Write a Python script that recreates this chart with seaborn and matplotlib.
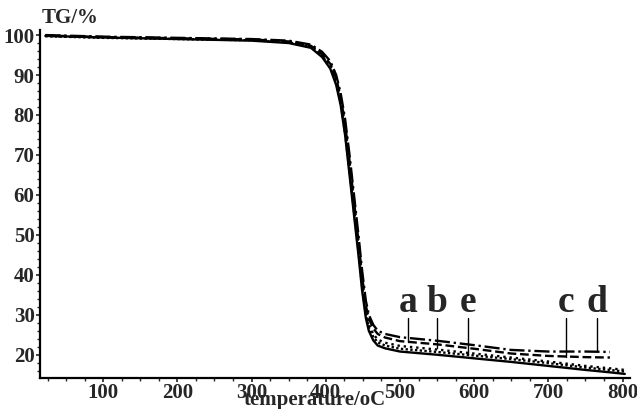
import numpy as np
import pandas as pd
import matplotlib
matplotlib.use('Agg')
import matplotlib.pyplot as plt
from matplotlib.ticker import MultipleLocator
import seaborn as sns

temps = [22, 100, 200, 300, 350, 380, 395, 406, 414, 420, 426, 432, 438, 444,
         449, 454, 458, 464, 470, 480, 500, 550, 600, 650, 700, 750, 783, 803]

tg_d = [100.0, 99.6, 99.3, 99.0, 98.6, 97.6, 95.8, 93.5, 90.0, 85.5, 79.0, 70.0, 60.0, 50.0,
        41.0, 33.5, 30.0, 27.5, 26.0, 25.2, 24.4, 23.5, 22.4, 21.2, 20.8, 20.8, 20.7, np.nan]
tg_c = [99.9, 99.5, 99.2, 98.9, 98.4, 97.3, 95.3, 92.8, 89.2, 84.5, 77.8, 68.5, 58.5, 48.5,
        39.5, 32.3, 29.0, 26.6, 25.2, 24.3, 23.4, 22.6, 21.5, 20.3, 19.7, 19.4, 19.3, np.nan]
tg_b = [99.8, 99.4, 99.1, 98.8, 98.3, 97.2, 95.0, 92.4, 88.6, 83.6, 76.5, 67.0, 57.0, 47.0,
        38.0, 30.8, 27.6, 25.2, 23.8, 23.0, 22.2, 21.3, 20.3, 19.3, 18.3, 17.2, 16.6, 16.2]
tg_e = [99.7, 99.3, 99.0, 98.7, 98.2, 97.0, 94.8, 92.0, 88.0, 83.0, 75.5, 66.0, 56.0, 46.0,
        37.0, 30.0, 26.8, 24.5, 23.1, 22.3, 21.5, 20.7, 19.8, 18.9, 17.9, 16.8, 16.2, 15.8]
tg_a = [99.8, 99.4, 99.0, 98.6, 98.0, 96.8, 94.5, 91.6, 87.5, 82.5, 75.0, 65.0, 55.0, 45.0,
        36.0, 29.2, 26.0, 23.6, 22.3, 21.6, 20.8, 20.0, 19.1, 18.2, 17.2, 16.2, 15.6, 15.2]

# letters and where their pointer lines end
label_names = ['a', 'b', 'e', 'c', 'd']
label_temps = [511, 550, 592, 724, 765]
label_tips = [23.2, 21.7, 20.0, 19.5, 21.0]

sns.set_style('ticks')
plt.rcParams['font.family'] = ['Liberation Serif', 'DejaVu Serif']
plt.rcParams['font.weight'] = 'bold'

fig = plt.figure(figsize=(6.37, 4.09), dpi=100)
ax = fig.add_axes([0.063, 0.076, 0.926, 0.851])

series = [(tg_d, '-.'), (tg_c, '--'), (tg_b, ':'), (tg_e, (0, (1, 1))), (tg_a, '-')]
for values, ls in series:
    sns.lineplot(x=temps, y=values, ax=ax, color='black', lw=1.7, linestyle=ls)

for name, t, tip in zip(label_names, label_temps, label_tips):
    ax.text(t, 30.6, name, ha='center', va='baseline', fontsize=27, fontweight='bold')
    ax.plot([t, t], [29.3, tip], color='black', lw=1.0)

ax.set_xlim(15, 810)
ax.set_ylim(14.2, 101.3)
ax.xaxis.set_major_locator(MultipleLocator(100))
ax.xaxis.set_minor_locator(MultipleLocator(25))
ax.yaxis.set_major_locator(MultipleLocator(10))
ax.yaxis.set_minor_locator(MultipleLocator(2))
ax.set_xticks(range(100, 801, 100))
ax.set_yticks(range(20, 101, 10))
ax.tick_params(axis='both', which='major', direction='out', length=3, width=1.2,
               labelsize=15, pad=1)
ax.tick_params(axis='both', which='minor', direction='out', length=2, width=1.0)
for lab in ax.get_xticklabels() + ax.get_yticklabels():
    lab.set_fontweight('bold')

sns.despine(ax=ax)
for side in ['left', 'bottom']:
    ax.spines[side].set_linewidth(1.6)
    ax.spines[side].set_color('black')

ax.set_xlabel('')
ax.set_ylabel('')
fig.text(42 / 637, 1 - 18 / 409, 'TG/%', ha='left', va='center', fontsize=15, fontweight='bold')
fig.text(315 / 637, 1 - 400 / 409, 'temperature/oC', ha='center', va='center',
         fontsize=15, fontweight='bold')

fig.savefig('out.png', dpi=100)
